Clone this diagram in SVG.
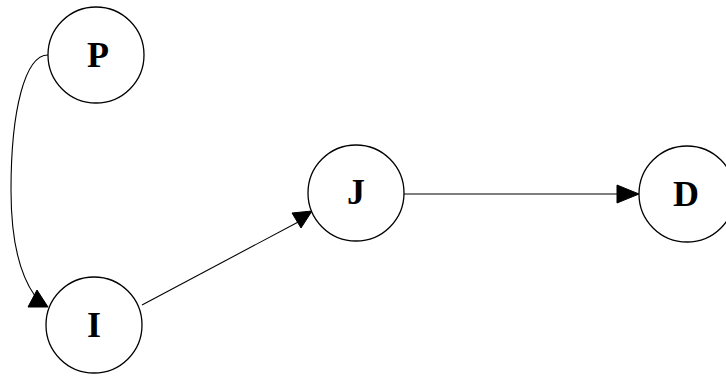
<svg xmlns="http://www.w3.org/2000/svg" width="726" height="377" viewBox="0 0 726 377">
<style>
.node circle{fill:#fff;stroke:#000;stroke-width:1.3}
.node text{font-family:"Liberation Serif","Times New Roman",serif;font-weight:bold;font-size:36px;text-anchor:middle;fill:#000}
.edge path{fill:none;stroke:#000;stroke-width:1.1}
.edge polygon{fill:#000;stroke:#000;stroke-width:1}
</style>
<rect width="726" height="377" fill="#fff"/>
<g id="edges">
<g class="edge" id="e-P-I">
<path d="M48,55 C25,55 11,110 11,190 C11,240 20,275 35,296"/>
<polygon points="37,290 28,307 48,307"/>
</g>
<g class="edge" id="e-I-J">
<path d="M142,305 L302,220"/>
<polygon points="292,213 312,211 301,228"/>
</g>
<g class="edge" id="e-J-D">
<path d="M404,194 L618,194"/>
<polygon points="617,185 617,203 639,194"/>
</g>
</g>
<g class="node" id="P"><circle cx="96" cy="55" r="48"/><text x="98" y="67">P</text></g>
<g class="node" id="I"><circle cx="94" cy="325" r="48"/><text x="94" y="337">I</text></g>
<g class="node" id="J"><circle cx="356" cy="193" r="48"/><text x="356" y="204">J</text></g>
<g class="node" id="D"><circle cx="687" cy="194" r="48"/><text x="686" y="206">D</text></g>
</svg>
